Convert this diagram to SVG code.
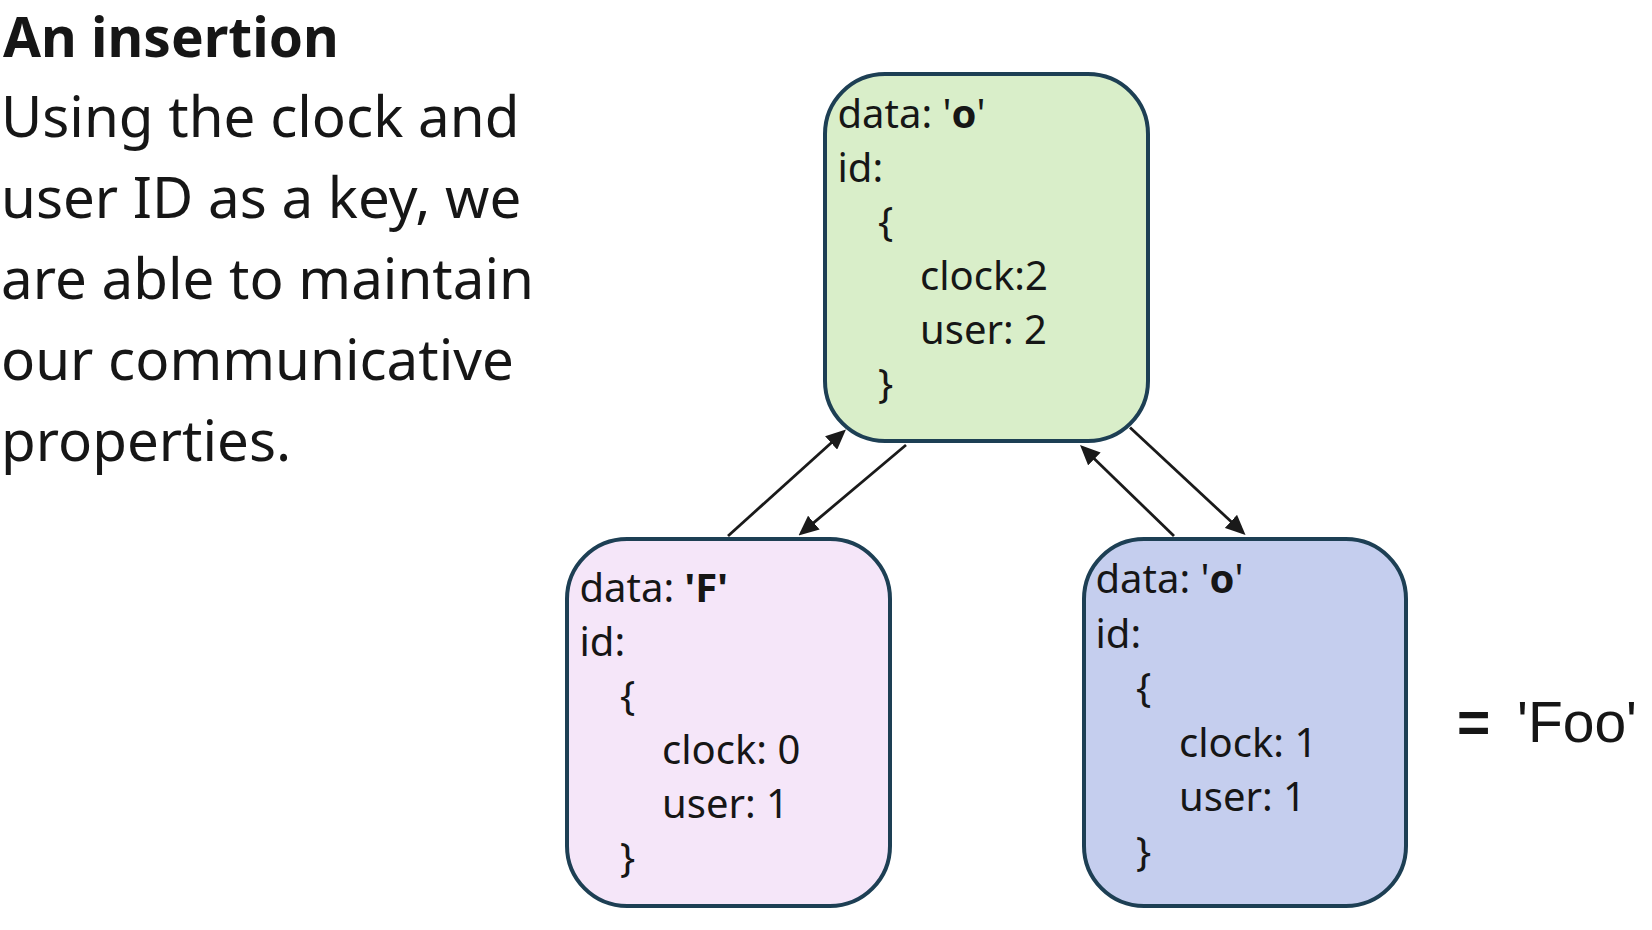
<svg xmlns="http://www.w3.org/2000/svg" width="1652" height="930" viewBox="0 0 1652 930">
<style>
  .bg { fill: #ffffff; }
  .box { stroke: #1d3f54; stroke-width: 4; }
  .green { fill: #d9eec9; }
  .pink { fill: #f5e6f9; }
  .blue { fill: #c5ceee; }
  .t { font-family: "Noto Sans", "Open Sans", sans-serif; font-size: 40px; fill: #161616; }
  .b { font-weight: bold; }
  .title { font-family: "Noto Sans", "Open Sans", sans-serif; font-size: 55px; font-weight: bold; fill: #161616; }
  .body { font-family: "Noto Sans", "Open Sans", sans-serif; font-size: 56.5px; fill: #161616; }
  .res { font-family: "Liberation Sans", Arial, sans-serif; font-size: 57px; fill: #161616; }
  .conn { stroke: #1a1a1a; stroke-width: 2.8; fill: none; marker-end: url(#arr); }
</style>
<defs>
  <marker id="arr" viewBox="0 0 20 18" refX="16" refY="9" markerWidth="20" markerHeight="18" markerUnits="userSpaceOnUse" orient="auto">
    <path d="M0,0 L20,9 L0,18 z" fill="#1a1a1a"/>
  </marker>
</defs>
<rect class="bg" x="0" y="0" width="1652" height="930"/>

<g id="description">
  <text class="title" x="3" y="57">An insertion</text>
  <text class="body" x="1" y="137">Using the clock and</text>
  <text class="body" x="1" y="218">user ID as a key, we</text>
  <text class="body" x="1" y="299">are able to maintain</text>
  <text class="body" x="1" y="380">our communicative</text>
  <text class="body" x="1" y="461">properties.</text>
</g>

<g id="node-top">
  <rect class="box green" x="825" y="74" width="323" height="367" rx="60" ry="60"/>
  <text class="t" x="837.5" y="128">data: '<tspan class="b">o</tspan>'</text>
  <text class="t" x="837.5" y="182">id:</text>
  <text class="t" x="878" y="236">{</text>
  <text class="t" x="920" y="290">clock:2</text>
  <text class="t" x="920" y="344">user: 2</text>
  <text class="t" x="878" y="398">}</text>
</g>

<g id="node-left">
  <rect class="box pink" x="567" y="539" width="323" height="367" rx="60" ry="60"/>
  <text class="t" x="579.5" y="602">data: <tspan class="b">'F'</tspan></text>
  <text class="t" x="579.5" y="656">id:</text>
  <text class="t" x="620" y="710">{</text>
  <text class="t" x="662" y="764">clock: 0</text>
  <text class="t" x="662" y="818">user: 1</text>
  <text class="t" x="620" y="872">}</text>
</g>

<g id="node-right">
  <rect class="box blue" x="1084" y="539" width="322" height="367" rx="60" ry="60"/>
  <text class="t" x="1095.5" y="593">data: '<tspan class="b">o</tspan>'</text>
  <text class="t" x="1095.5" y="648">id:</text>
  <text class="t" x="1136" y="702">{</text>
  <text class="t" x="1179" y="757">clock: 1</text>
  <text class="t" x="1179" y="811">user: 1</text>
  <text class="t" x="1136" y="866">}</text>
</g>

<g id="result">
  <text class="res b" x="1457" y="742">=</text>
  <text class="res" x="1517" y="742">'Foo'</text>
</g>

<g id="connectors">
  <path class="conn" d="M728,536 L843.0,432.2"/>
  <path class="conn" d="M906,445 L801.6,532.9"/>
  <path class="conn" d="M1174,536 L1082.9,447.8"/>
  <path class="conn" d="M1130,427.5 L1242.6,532.3"/>
</g>
</svg>
